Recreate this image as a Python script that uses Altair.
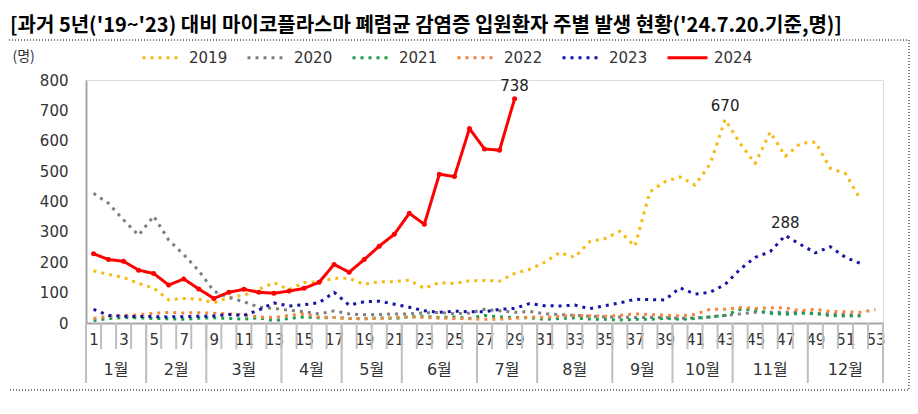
import altair as alt
import pandas as pd

# ---------------- data ----------------
weeks = list(range(1, 54))
years = ["2019", "2020", "2021", "2022", "2023", "2024"]

v2019 = [172, 160, 150, 130, 115, 76, 81, 78, 67, 84, 91, 111, 133, 110, 133, 136, 147, 147,
         127, 136, 136, 141, 114, 133, 130, 139, 140, 138, 163, 177, 200, 232, 216, 268, 278,
         302, 253, 432, 465, 481, 454, 523, 670, 591, 525, 629, 549, 591, 596, 509, 492, 407]
v2020 = [427, 394, 339, 289, 352, 273, 225, 172, 105, 84, 70, 52, 48, 42, 37, 30, 40, 30,
         27, 28, 30, 30, 33, 35, 30, 33, 45, 40, 35, 38, 30, 28, 25, 22, 20, 20, 18, 18,
         18, 15, 17, 20, 25, 30, 35, 35, 35, 35, 32, 30, 28, 25]
v2021 = [8, 15, 18, 17, 15, 14, 12, 16, 17, 15, 13, 17, 8, 15, 20, 17, 18, 15, 14, 17, 15,
         20, 22, 18, 20, 15, 25, 20, 18, 17, 12, 15, 17, 13, 12, 10, 12, 12, 15, 12, 15, 20,
         25, 45, 43, 32, 29, 32, 31, 24, 23, 23]
v2022 = [15, 22, 25, 27, 32, 35, 33, 34, 32, 30, 27, 20, 18, 25, 30, 20, 18, 15, 14, 15, 18,
         20, 18, 16, 15, 14, 12, 13, 15, 20, 18, 22, 25, 24, 22, 25, 30, 28, 25, 24, 28, 45,
         45, 51, 48, 50, 50, 40, 45, 38, 37, 35, 44]
v2023 = [45, 25, 22, 21, 21, 20, 21, 22, 23, 28, 25, 43, 66, 56, 60, 67, 101, 59, 70, 72, 62,
         52, 40, 35, 39, 37, 37, 45, 48, 64, 57, 56, 59, 47, 57, 66, 78, 77, 76, 116, 95, 101,
         127, 177, 216, 235, 288, 259, 231, 251, 216, 196]
v2024 = [228, 209, 203, 174, 163, 125, 145, 112, 81, 101, 111, 101, 98, 105, 114, 134, 193,
         167, 209, 253, 292, 361, 325, 490, 482, 640, 573, 569, 738]

series = [v2019, v2020, v2021, v2022, v2023, v2024]
colors = ["#F5BA14", "#7F7F7F", "#1E9E4A", "#F0883E", "#1515A5", "#FF0000"]
dashes = [[3, 5], [3, 5], [3, 5], [3, 5], [3, 5], [1, 0]]
widths = [3, 3, 3, 3, 3, 4]

ann_years = ["2024", "2019", "2023"]
ann_weeks = [29, 43, 47]

months = ["1월", "2월", "3월", "4월", "5월", "6월", "7월", "8월", "9월", "10월", "11월", "12월"]
month_start = [1, 5, 9, 14, 18, 22, 27, 31, 36, 40, 44, 49]
month_end = [4, 8, 13, 17, 21, 26, 30, 35, 39, 43, 48, 53]

title_text = "[과거 5년('19~'23) 대비 마이코플라스마 폐렴균 감염증 입원환자 주별 발생 현황('24.7.20.기준,명)]"

# ---------------- tables ----------------
rows = []
for yr, vals in zip(years, series):
    for w, v in zip(weeks, vals):
        rows.append({"week": w, "year": yr, "value": v})
df = pd.DataFrame(rows)

ann_rows = []
for yr, w in zip(ann_years, ann_weeks):
    v = series[years.index(yr)][w - 1]
    ann_rows.append({"week": w, "value": v, "label": str(v)})
df_ann = pd.DataFrame(ann_rows)

df_wb = pd.DataFrame({"b": [w - 0.5 for w in weeks] + [weeks[-1] + 0.5]})
df_mb = pd.DataFrame({"b": [s - 0.5 for s in month_start] + [month_end[-1] + 0.5]})
df_m = pd.DataFrame({"month": months,
                     "mid": [(s + e) / 2 for s, e in zip(month_start, month_end)]})

NUM_FONT = "DejaVu Sans, Noto Sans CJK KR"
KR_FONT = "Noto Sans CJK KR"

xscale = alt.Scale(domain=[0.5, 53.5], nice=False, zero=False)
yscale = alt.Scale(domain=[0, 800], nice=False)

xaxis = alt.Axis(values=[w for w in weeks if w % 2 == 1], title=None, grid=False,
                 ticks=False, domainColor="#A6A6A6", domainWidth=2,
                 labelFont=NUM_FONT, labelFontSize=15, labelColor="#333333",
                 labelPadding=9, labelFlush=False, labelOverlap=False)
yaxis = alt.Axis(values=list(range(0, 801, 100)), grid=False, ticks=False,
                 domainColor="#A6A6A6", domainWidth=2,
                 labelFont=NUM_FONT, labelFontSize=15, labelColor="#333333",
                 labelPadding=18,
                 title="(명)", titleAngle=0, titleAlign="left",
                 titleBaseline="middle", titleX=-74, titleY=-24,
                 titleFont=KR_FONT, titleFontSize=14, titleFontWeight="normal",
                 titleColor="#333333")

legend = alt.Legend(title=None, orient="none", legendX=55, legendY=-44,
                    direction="horizontal", columns=6, columnPadding=13,
                    symbolType="stroke", symbolSize=1600, labelFontSize=15,
                    labelFont=NUM_FONT, labelColor="#333333", labelOffset=5)

lines = alt.Chart(df).mark_line(strokeJoin="round").encode(
    x=alt.X("week:Q", scale=xscale, axis=xaxis),
    y=alt.Y("value:Q", scale=yscale, axis=yaxis),
    color=alt.Color("year:O", scale=alt.Scale(domain=years, range=colors), legend=legend),
    strokeDash=alt.StrokeDash("year:O", scale=alt.Scale(domain=years, range=dashes),
                              legend=legend),
    strokeWidth=alt.StrokeWidth("year:O", scale=alt.Scale(domain=years, range=widths),
                                legend=legend),
)

pts = alt.Chart(df).transform_filter(alt.datum.year == years[-1]).mark_point(
    filled=True, shape="circle", size=25, color=colors[-1], opacity=1).encode(
    x=alt.X("week:Q", scale=xscale, axis=xaxis),
    y=alt.Y("value:Q", scale=yscale, axis=yaxis),
)

ann = alt.Chart(df_ann).mark_text(dy=-13, fontSize=15, font=NUM_FONT, color="#222222").encode(
    x=alt.X("week:Q", scale=xscale, axis=xaxis),
    y=alt.Y("value:Q", scale=yscale, axis=yaxis),
    text="label:N",
)

week_ticks = alt.Chart(df_wb).mark_rule(color="#BFBFBF", strokeWidth=2).encode(
    x=alt.X("b:Q", scale=xscale, axis=xaxis),
    y=alt.value(243), y2=alt.value(269),
)

month_ticks = alt.Chart(df_mb).mark_rule(color="#BFBFBF", strokeWidth=2).encode(
    x=alt.X("b:Q", scale=xscale, axis=xaxis),
    y=alt.value(243), y2=alt.value(303),
)

month_text = alt.Chart(df_m).mark_text(fontSize=16, font=NUM_FONT, color="#333333").encode(
    x=alt.X("mid:Q", scale=xscale, axis=xaxis),
    y=alt.value(290),
    text="month:N",
)

border = alt.Chart(alt.Data(values=[{}])).mark_rect(
    filled=False, stroke="#000000", strokeDash=[1, 2], strokeWidth=1).encode(
    x=alt.value(-86), x2=alt.value(823), y=alt.value(-40), y2=alt.value(310),
)

title_mark = alt.Chart(alt.Data(values=[{}])).mark_text(
    align="left", baseline="middle", fontSize=20, font=KR_FONT, fontWeight="bold",
    color="#000000").encode(
    x=alt.value(-76), y=alt.value(-54), text=alt.value(title_text),
)

chart = alt.layer(week_ticks, month_ticks, month_text, border, title_mark,
                  lines, pts, ann).properties(
    width=797, height=243,
    autosize=alt.AutoSizeParams(type="none"),
    padding={"left": 78, "top": 72, "right": 27, "bottom": 83},
).configure_view(stroke=None).configure(background="white")

chart.save("out.html", embed_options={"renderer": "svg", "actions": False})
